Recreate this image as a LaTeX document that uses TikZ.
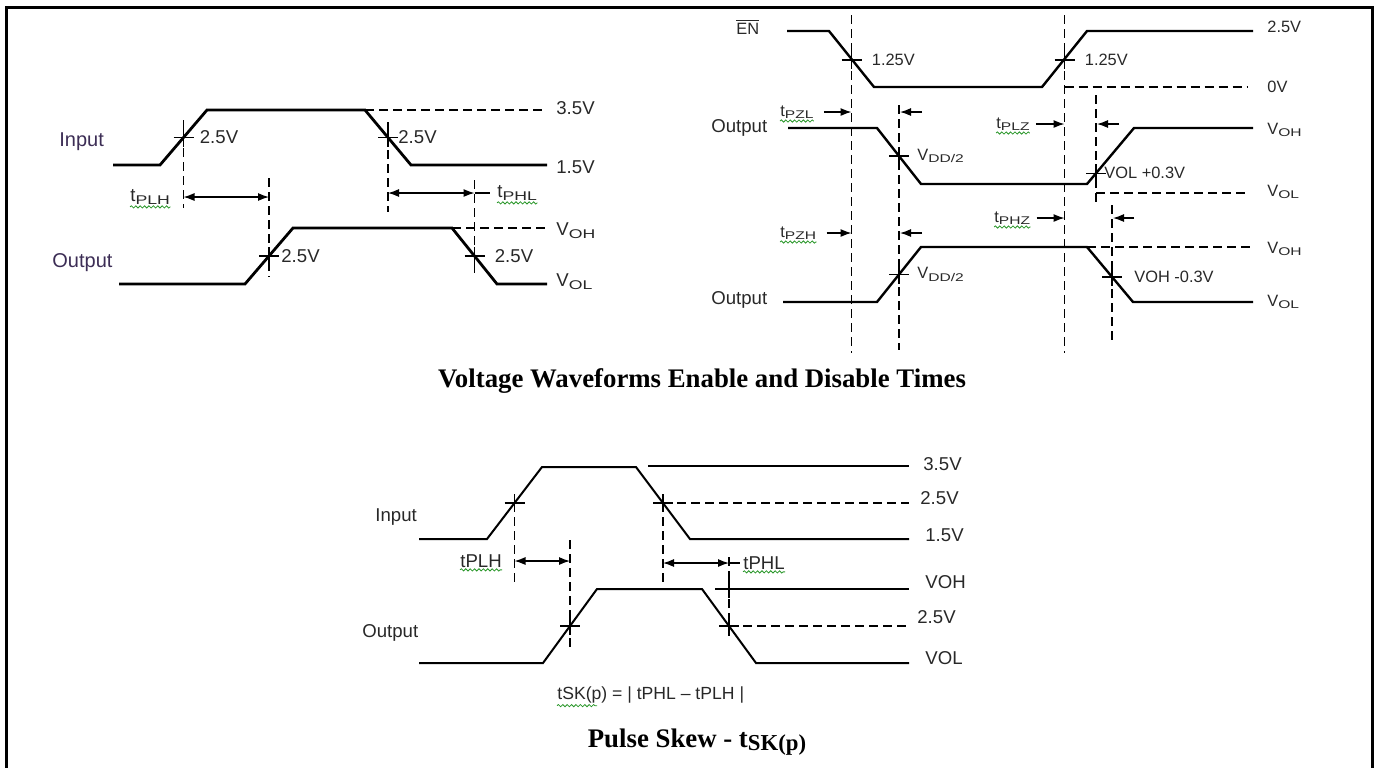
\documentclass[tikz,border=0pt]{standalone}
\usepackage{fontspec}
\usepackage{graphicx}
\setmainfont{Liberation Sans}
\newfontfamily\headfont{Liberation Serif}
\usetikzlibrary{arrows.meta,positioning,decorations.pathmorphing}
\definecolor{ink}{RGB}{40,40,40}
\definecolor{plum}{RGB}{60,45,85}
\definecolor{spell}{RGB}{40,150,40}
\newcommand{\dn}[1]{\raisebox{-0.3ex}{\scalebox{0.95}[0.68]{#1}}}
\newcommand{\tsub}[1]{\raisebox{-0.3ex}{\scalebox{0.85}{#1}}}
\tikzset{
  wave/.style={line width=1.4pt},
  slim/.style={line width=1pt},
  guide/.style={line width=0.55pt, dash pattern=on 4.5pt off 2.5pt},
  xmark/.style={line width=0.7pt},
  dim/.style={line width=0.6pt, {Latex[length=5.5pt,width=4pt]}-{Latex[length=5.5pt,width=4pt]}},
  pin/.style={line width=0.6pt, -{Latex[length=5.5pt,width=4pt]}},
  val/.style={anchor=west, inner sep=0pt, text=ink},
  squig/.style={draw=spell, line width=0.4pt, decorate, decoration={snake, amplitude=0.55pt, segment length=2.2pt}},
  heading/.style={inner sep=0pt, text=black, font=\headfont\bfseries\fontsize{13.4}{15}\selectfont}
}
\begin{document}
\begin{tikzpicture}[x=0.5pt, y=-0.5pt,
    lblL/.style={val, font=\fontsize{9.3}{11}\selectfont},
    lblR/.style={val, font=\fontsize{8.2}{10}\selectfont},
    lblB/.style={val, font=\fontsize{9.3}{11}\selectfont},
    sig/.style={val, text=plum, font=\fontsize{10}{12}\selectfont}]
  \useasboundingbox (0,0) rectangle (1378,767);
  \draw[line width=1.2pt] (6.5,780) -- (6.5,7.5) -- (1372.5,7.5) -- (1372.5,780);

  % Define nodes
  \coordinate (r1) at (183.5,137.5);
  \coordinate (f1) at (388,137.5);
  \coordinate (r2) at (269,256);
  \coordinate (f2) at (474.5,256);
  \coordinate (e1) at (851.5,60);
  \coordinate (e2) at (1064.5,60);
  \coordinate (o1) at (899,156);
  \coordinate (o2) at (1096,173.3);
  \coordinate (p1) at (899,274.5);
  \coordinate (p2) at (1112,277);
  \coordinate (b1) at (514.5,503);
  \coordinate (b2) at (663,503);
  \coordinate (c1) at (570,626);
  \coordinate (c2) at (729,626);
  \coordinate (c3) at (729,589);

  % propagation delay
  \node[sig] (inL) at (59,142) {Input};
  \node[sig] (outL) at (52,263) {Output};
  \node[lblL, right=8pt of r1] (l1) {2.5V};
  \node[lblL, right=5pt of f1] (l2) {2.5V};
  \node[lblL, right=6pt of r2] (l3) {2.5V};
  \node[lblL, right=10pt of f2] (l4) {2.5V};
  \node[lblL] (l5) at (556,108) {3.5V};
  \node[lblL] (l6) at (556,167) {1.5V};
  \node[lblL] (l7) at (556,231) {V\dn{OH}};
  \node[lblL] (l8) at (556,282) {V\dn{OL}};
  \node[lblL] (tl) at (130,197) {t\dn{PLH}};
  \node[lblL] (th) at (497,193) {t\dn{PHL}};
  \draw[wave] (113,165) -- (160,165) -- (207,110) -- (365,110) -- (411,165) -- (547,165);
  \draw[wave] (119,284) -- (245,284) -- (293,228) -- (452,228) -- (497,284) -- (547,284);
  \draw[guide] (365,110) -- (547,110);
  \draw[guide] (452,228) -- (547,228);
  \draw[guide] (r1 |- 0,120) -- (r1 |- 0,208);
  \draw[guide] (f1 |- 0,122) -- (f1 |- 0,212);
  \draw[guide] (r2 |- 0,178) -- (r2 |- 0,277);
  \draw[guide] (f2 |- 0,180) -- (f2 |- 0,277);
  \draw[dim] (r1 |- tl) -- (r2 |- tl);
  \draw[dim] (f1 |- th) -- (f2 |- th);
  \draw[line width=0.6pt] (f2 |- th) -- ++(15,0);

  % enable and disable times
  \node[lblR] (en) at (736,27) {$\overline{\mbox{EN}}$};
  \node[lblR, font=\fontsize{9.3}{11}\selectfont] (out1) at (711,128) {Output};
  \node[lblR, font=\fontsize{9.3}{11}\selectfont] (out2) at (711,300) {Output};
  \node[lblR, right=10pt of e1] (m1) {1.25V};
  \node[lblR, right=10pt of e2] (m2) {1.25V};
  \node[lblR, right=9pt of o1] (m3) {V\dn{DD/2}};
  \node[lblR, right=4pt of o2] (m4) {VOL +0.3V};
  \node[lblR, right=9pt of p1] (m5) {V\dn{DD/2}};
  \node[lblR, right=11pt of p2] (m6) {VOH -0.3V};
  \node[lblR] (m7) at (1267,27) {2.5V};
  \node[lblR] (m8) at (1267,87) {0V};
  \node[lblR] (m9) at (1267,130) {V\dn{OH}};
  \node[lblR] (m10) at (1267,192) {V\dn{OL}};
  \node[lblR] (m11) at (1267,249) {V\dn{OH}};
  \node[lblR] (m12) at (1267,302) {V\dn{OL}};
  \node[lblR] (tzl) at (780,112) {t\dn{PZL}};
  \node[lblR] (tlz) at (996,124) {t\dn{PLZ}};
  \node[lblR] (thz) at (994,218) {t\dn{PHZ}};
  \node[lblR] (tzh) at (780,233) {t\dn{PZH}};
  \draw[wave, line width=1.2pt] (787,31) -- (829,31) -- (874,87) -- (1042,87) -- (1087,31) -- (1253,31);
  \draw[wave, line width=1.2pt] (788,128) -- (877,128) -- (921,184) -- (1087,184) -- (1134,128) -- (1253,128);
  \draw[wave, line width=1.2pt] (783,302) -- (877,302) -- (921,247) -- (1087,247) -- (1133,302) -- (1253,302);
  \draw[guide] (e2 |- 0,87) -- (1247,87);
  \draw[guide] (o2 |- 0,193) -- (1248,193);
  \draw[guide] (1087,247) -- (1254,247);
  \draw[guide] (e1 |- 0,15) -- (e1 |- 0,353);
  \draw[guide] (e2 |- 0,15) -- (e2 |- 0,353);
  \draw[guide] (o1 |- 0,105) -- (o1 |- 0,350);
  \draw[guide] (o2 |- 0,95) -- (o2 |- 0,203);
  \draw[guide] (p2 |- 0,205) -- (p2 |- 0,343);
  \draw[pin] ([xshift=5pt]tzl.east) -- (e1 |- tzl);
  \draw[pin] ([xshift=5pt]tzh.east) -- (e1 |- tzh);
  \draw[pin] ([xshift=3pt]tlz.east) -- (e2 |- tlz);
  \draw[pin] ([xshift=3pt]thz.east) -- (e2 |- thz);
  \draw[pin] (o1 |- tzl) ++(23,0) -- ++(-22,0);
  \draw[pin] (o1 |- tzh) ++(23,0) -- ++(-22,0);
  \draw[pin] (o2 |- tlz) ++(23,0) -- ++(-22,0);
  \draw[pin] (p2 |- thz) ++(22,0) -- ++(-21,0);

  % pulse skew
  \node[lblB] (inB) at (375,517) {Input};
  \node[lblB] (outB) at (362,633) {Output};
  \node[lblB] (k1) at (923,464) {3.5V};
  \node[lblB] (k2) at (920,498) {2.5V};
  \node[lblB] (k3) at (925,535) {1.5V};
  \node[lblB] (k4) at (925,582) {VOH};
  \node[lblB] (k5) at (917,617) {2.5V};
  \node[lblB] (k6) at (925,658) {VOL};
  \node[lblB] (tpl) at (460,561) {tPLH};
  \node[lblB] (tph) at (743,563) {tPHL};
  \node[lblB, font=\fontsize{8.8}{11}\selectfont] (skew) at (557,695) {tSK(p) = | tPHL -- tPLH |};
  \draw[slim] (419,539) -- (487,539) -- (542,467) -- (636,467) -- (690,539) -- (909,539);
  \draw[slim] (648,466) -- (909,466);
  \draw[slim] (419,663) -- (543,663) -- (597,589) -- (702,589) -- (756,663) -- (909,663);
  \draw[slim] (c3) ++(-14,0) -- (909,589);
  \draw[guide] (b2) -- (909,503);
  \draw[guide] (743,626) -- (909,626);
  \draw[guide] (b1) -- (b1 |- 0,583);
  \draw[guide] (b2) -- (b2 |- 0,583);
  \draw[guide] (c1 |- 0,540) -- (c1 |- 0,647);
  \draw[guide] (c2 |- 0,557) -- (c2 |- 0,640);
  \draw[dim] (b1 |- tpl) -- (c1 |- tpl);
  \draw[dim] (b2 |- tph) -- (c2 |- tph);
  \draw[line width=0.6pt] (c2 |- tph) -- ++(11,0);

  % crossings
  \foreach \c in {r1,f1,r2,f2,e1,e2,o1,o2,p1,p2,b1,b2,c1,c2,c3}
    \draw[xmark] (\c) +(-10,0) -- +(10,0) (\c) +(0,-9) -- +(0,9);
  \foreach \n in {tl,th,tzl,tlz,thz,tzh,tpl,tph}
    \draw[squig] ([yshift=-1pt]\n.south west) -- ([yshift=-1pt]\n.south east);
  \draw[squig] ([yshift=-1pt]skew.south west) -- ++(40,0);

  \node[heading] (t1) at (702,381) {Voltage Waveforms Enable and Disable Times};
  \node[heading] (t2) at (697,742) {Pulse Skew - t\tsub{SK(p)}};
\end{tikzpicture}
\end{document}
